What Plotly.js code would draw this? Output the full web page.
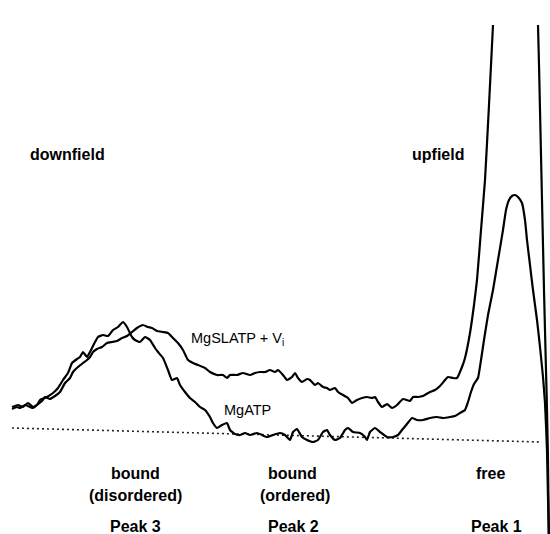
<!DOCTYPE html>
<html>
<head>
<meta charset="utf-8">
<script src="https://cdn.plot.ly/plotly-3.0.1.min.js"></script>
<style>
  html, body { margin: 0; padding: 0; background: #ffffff; }
  #chart { width: 550px; height: 534px; }
</style>
</head>
<body>
<div id="chart"></div>
<script>
// Position along the spectrum (arbitrary units, downfield on the left)
const slatpShift = [12,17,20,25,30,33,38,42,45,50,55,60,65,70,73,78,83,87,90,93,97,102,107,112,117,122,127,132,137,143,148,152,157,163,168,173,178,183,188,193,198,205,210,217,223,227,230,237,243,250,255,260,265,270,275,278,283,287,292,295,298,302,307,310,315,318,323,327,330,335,338,343,348,352,357,362,367,372,375,378,382,387,392,397,403,410,413,418,423,430,435,440,445,448,453,457,462,465,470,474,477,481,485,489,493,496,500,516,530,535,538,540,542,544,546,547,548,549];
// MgSLATP + Vi intensity (arbitrary units)
const slatpSignal = [125,127,126,129,127,126,130,133,137,135,138,142,151,156,162,167,171,174,177,182,185,187,191,192,193,196,198,202,206,209,207,206,203,202,201,196,191,184,174,171,169,166,162,159,159,156,159,159,161,159,161,162,162,164,162,164,159,154,157,161,156,152,155,154,149,151,147,146,144,146,142,139,136,131,134,136,137,136,137,132,127,130,126,129,135,133,137,137,138,142,144,148,154,157,156,156,167,176,201,229,254,304,354,429,509,574,624,654,614,554,509,424,334,244,164,124,74,-11];

const atpShift = [12,18,23,28,33,37,40,47,53,58,63,68,72,77,80,83,87,90,95,98,103,108,113,118,123,127,132,135,140,145,150,155,158,163,168,172,177,180,185,190,195,200,205,210,213,217,222,227,230,235,240,245,250,257,262,267,273,280,285,290,293,297,302,307,313,318,323,327,330,335,340,345,348,353,360,365,367,370,375,380,387,393,398,402,407,412,417,423,430,437,443,450,455,460,465,468,471,474,478,481,484,488,493,498,503,506,509,512,515,518,522,525,527,530,533,537,540,543,545,547,549];
// MgATP intensity (arbitrary units)
const atpSignal = [127,129,127,131,127,129,134,137,141,146,154,161,171,175,177,182,177,182,192,197,199,198,204,207,212,207,197,194,192,197,194,186,182,176,164,154,156,149,142,136,132,127,124,117,111,106,109,111,104,100,99,101,99,101,99,97,99,101,99,94,102,105,97,94,92,94,102,104,99,94,96,104,106,102,101,97,94,102,106,102,97,97,99,104,110,116,114,114,116,117,116,117,118,121,124,132,142,150,156,174,194,219,244,274,304,324,334,338,339,337,331,314,294,269,244,214,187,157,131,84,-11];

// Baseline (dotted)
const baseShift = [12,540];
const baseSignal = [106,92];

// Labels
const labelText = ["downfield","upfield","bound","(disordered)","Peak 3","bound","(ordered)","Peak 2","free","Peak 1"];
const labelShift = [67,438,135,135,135,292,295,293,490,496];
const labelLevel = [380,380,61,39,8,61,39,8,61,8];

const seriesText = ["MgSLATP + V<sub>i</sub>","MgATP"];
const seriesShift = [189,222];
const seriesLevel = [195,124];

const traces = [
  {x: baseShift, y: baseSignal, type: 'scatter', mode: 'lines',
   line: {color: '#222222', width: 1.6, dash: '2px,3px'}, hoverinfo: 'skip'},
  {x: slatpShift, y: slatpSignal, type: 'scatter', mode: 'lines', name: 'MgSLATP + Vi',
   line: {color: '#000000', width: 2.2, shape: 'spline', smoothing: 0.4}},
  {x: atpShift, y: atpSignal, type: 'scatter', mode: 'lines', name: 'MgATP',
   line: {color: '#000000', width: 2.2, shape: 'spline', smoothing: 0.4}}
];

const annotations = [];
labelText.forEach((t, i) => annotations.push({
  x: labelShift[i], y: labelLevel[i], xref: 'x', yref: 'y', text: t, showarrow: false,
  xanchor: 'center', yanchor: 'middle',
  font: {family: 'Liberation Sans, Arial, Helvetica, sans-serif', size: 16, color: '#000', weight: 'bold'}
}));
seriesText.forEach((t, i) => annotations.push({
  x: seriesShift[i], y: seriesLevel[i], xref: 'x', yref: 'y', text: t, showarrow: false,
  xanchor: 'left', yanchor: 'middle',
  font: {family: 'Liberation Sans, Arial, Helvetica, sans-serif', size: 14.5, color: '#000'}
}));

const axisOff = {showgrid: false, zeroline: false, showline: false, showticklabels: false, ticks: '', fixedrange: true};

const layout = {
  width: 550, height: 534,
  margin: {l: 0, r: 0, t: 25, b: 0, pad: 0},
  paper_bgcolor: '#ffffff', plot_bgcolor: '#ffffff',
  showlegend: false,
  hovermode: false,
  xaxis: Object.assign({range: [0, 550]}, axisOff),
  yaxis: Object.assign({range: [0, 509]}, axisOff),
  annotations: annotations
};

Plotly.newPlot('chart', traces, layout, {displayModeBar: false, staticPlot: true});
</script>
</body>
</html>
